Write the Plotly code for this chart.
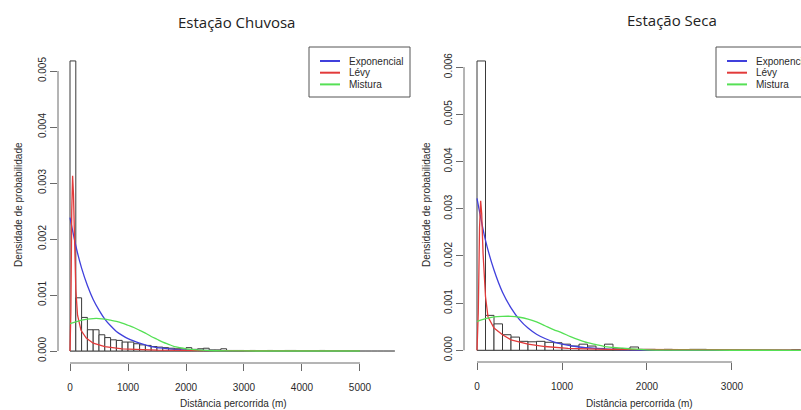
import plotly.graph_objects as go

W, H = 801, 410
BIN_WIDTH = 100  # m

# ---------------- data ----------------
# Estação Chuvosa: histogram densities, 100 m bins from 0 m to 5600 m
chuvosa_density = [
    0.00518, 0.00095, 0.00060, 0.00038, 0.00038, 0.00029, 0.00024, 0.00020, 0.00019, 0.00016,
    0.00016, 0.00013, 0.00011, 0.00010, 0.00008, 0.00007, 0.00006, 0.00005, 0.00004, 0.00004,
    0.00006, 0.00003, 0.00004, 0.00005, 0.00002, 0.00002, 0.00004, 0.00001, 0.00001, 0.00001,
    0.0, 0.00001, 0.0, 0.0, 0.00001, 0.0, 0.0, 0.00001, 0.00001, 0.0,
    0.0, 0.0, 0.0, 0.00001, 0.0, 0.0, 0.0, 0.0, 0.0, 0.0,
    0.0, 0.0, 0.0, 0.0, 0.0, 0.0,
]
# Estação Seca: histogram densities, 100 m bins from 0 m to 3900 m
seca_density = [
    0.00613, 0.00074, 0.00056, 0.00033, 0.00028, 0.00019, 0.00018, 0.00019, 0.00017, 0.00016,
    0.00013, 0.00009, 0.00013, 0.00009, 0.00004, 0.00013, 0.00003, 0.00004, 0.00007, 0.00002,
    0.00002, 0.0, 0.00002, 0.0, 0.0, 0.00002, 0.00002, 0.0, 0.0, 0.0,
    0.0, 0.0, 0.0, 0.0, 0.0, 0.0, 0.0, 0.00001, 0.0,
]

# fitted curves, Estação Chuvosa
chuvosa_exp_x = [0, 100, 200, 300, 400, 500, 600, 700, 800, 900, 1000, 1200, 1400, 1600, 1800, 2000, 2500, 3000, 4000, 5000]
chuvosa_exp_y = [0.00238, 0.00188, 0.00148, 0.00117, 0.00092, 0.00073, 0.00057, 0.00045, 0.00035, 0.00028,
                 0.00022, 0.00014, 0.00008, 0.00005, 0.00003, 0.00002, 0.000006, 0.000002, 0.0, 0.0]
chuvosa_levy_x = [0, 15, 30, 45, 60, 75, 100, 130, 190, 280, 400, 600, 900, 1500, 2500, 5000]
chuvosa_levy_y = [0.0, 0.0007, 0.0025, 0.00313, 0.0028, 0.0020, 0.0011, 0.00064, 0.00037, 0.00023,
                  0.00014, 0.00008, 0.00004, 0.000015, 0.000006, 0.000002]
chuvosa_mix_x = [0, 100, 200, 300, 400, 500, 600, 700, 800, 900, 1000, 1100, 1200, 1300, 1400, 1500,
                 1600, 1700, 1800, 1900, 2000, 2200, 2500, 3000, 4000, 5000]
chuvosa_mix_y = [0.00049, 0.00052, 0.00055, 0.00057, 0.00058, 0.00058, 0.00057, 0.00055, 0.00053, 0.00050,
                 0.00046, 0.00042, 0.00037, 0.00032, 0.00026, 0.00021, 0.00016, 0.00012, 0.00008, 0.00006,
                 0.00004, 0.00002, 0.000005, 0.000001, 0.0, 0.0]

# fitted curves, Estação Seca
seca_exp_x = [0, 100, 200, 300, 400, 500, 600, 700, 800, 900, 1000, 1200, 1400, 1600, 1800, 2000, 2500, 3000, 3900]
seca_exp_y = [0.00322, 0.00233, 0.00170, 0.00123, 0.00090, 0.00065, 0.00047, 0.00034, 0.00025, 0.00018,
              0.00013, 0.00007, 0.00004, 0.00002, 0.00001, 0.000005, 0.000001, 0.0, 0.0]
seca_levy_x = [0, 15, 30, 43, 55, 71, 100, 129, 200, 300, 400, 600, 800, 1070, 1540, 2500, 3900]
seca_levy_y = [0.0, 0.0008, 0.0026, 0.00317, 0.0029, 0.00206, 0.00114, 0.00071, 0.00047, 0.00033,
               0.00022, 0.00013, 0.00008, 0.00004, 0.00002, 0.000007, 0.000003]
seca_mix_x = [0, 100, 200, 300, 400, 500, 600, 700, 800, 900, 1000, 1100, 1200, 1300, 1400, 1500,
              1600, 1800, 2000, 2500, 3000, 3900]
seca_mix_y = [0.00061, 0.00067, 0.00071, 0.00072, 0.00072, 0.00070, 0.00066, 0.00060, 0.00052, 0.00044,
              0.00037, 0.00029, 0.00022, 0.00016, 0.00012, 0.00008, 0.00006, 0.00003, 0.00001, 0.000003,
              0.000001, 0.0]

# tick labels
chuvosa_xticks = [0, 1000, 2000, 3000, 4000, 5000]
chuvosa_yticks = [0.000, 0.001, 0.002, 0.003, 0.004, 0.005]
seca_xticks = [0, 1000, 2000, 3000]
seca_yticks = [0.000, 0.001, 0.002, 0.003, 0.004, 0.005, 0.006]

series_names = ["Exponencial", "Lévy", "Mistura"]
panel_titles = ["Estação Chuvosa", "Estação Seca"]
x_title = "Distância percorrida (m)"
y_title = "Densidade de probabilidade"

# ---------------- styling ----------------
FONT = "Liberation Sans, Arial, sans-serif"
AXIS_COL = "#6a6a6a"
BAR_EDGE = "#3a3a3a"
EMPTY_EDGE = "#808080"
TEXT_COL = "#2a2a2a"
COLORS = ["#4040dc", "#e23a3a", "#55e055"]


def px_x(p):
    return p / W


def px_y(p):
    return 1 - p / H


fig = go.Figure()


def add_panel(density, curves, xa, ya):
    centers = [BIN_WIDTH * i + BIN_WIDTH / 2 for i in range(len(density))]
    edge_cols = [BAR_EDGE if d > 0 else EMPTY_EDGE for d in density]
    fig.add_trace(go.Bar(
        x=centers, y=density, width=BIN_WIDTH, xaxis=xa, yaxis=ya,
        marker=dict(color="white", line=dict(color=edge_cols, width=1)),
        showlegend=False, name="Histograma",
    ))
    for (cx, cy, shape), name, col in zip(curves, series_names, COLORS):
        fig.add_trace(go.Scatter(
            x=cx, y=cy, mode="lines", xaxis=xa, yaxis=ya, name=name,
            line=dict(color=col, width=1.3, shape=shape, smoothing=0.8),
            showlegend=False,
        ))


add_panel(chuvosa_density,
          [(chuvosa_exp_x, chuvosa_exp_y, "spline"),
           (chuvosa_levy_x, chuvosa_levy_y, "linear"),
           (chuvosa_mix_x, chuvosa_mix_y, "spline")], "x", "y")
add_panel(seca_density,
          [(seca_exp_x, seca_exp_y, "spline"),
           (seca_levy_x, seca_levy_y, "linear"),
           (seca_mix_x, seca_mix_y, "spline")], "x2", "y2")

tickfont = dict(family=FONT, size=10, color=TEXT_COL)
common_x = dict(showgrid=False, zeroline=False, showline=False, ticks="outside", ticklen=7,
                tickwidth=1, tickcolor=AXIS_COL, tickfont=tickfont, ticklabelstandoff=8)
common_y = dict(showgrid=False, zeroline=False, showline=False, ticks="outside", ticklen=7,
                tickwidth=1, tickcolor=AXIS_COL, tickfont=tickfont, tickangle=-90)

fig.update_layout(
    width=W, height=H,
    margin=dict(l=0, r=0, t=0, b=0, autoexpand=False),
    paper_bgcolor="white", plot_bgcolor="white",
    showlegend=False,
    xaxis=dict(common_x, domain=[px_x(58), px_x(408)], range=[-207, 5828], anchor="y",
               tickvals=chuvosa_xticks, ticktext=[str(v) for v in chuvosa_xticks]),
    yaxis=dict(common_y, domain=[px_y(363), px_y(47)], range=[-0.000214, 0.005429], anchor="x",
               tickvals=chuvosa_yticks, ticktext=[f"{v:.3f}" for v in chuvosa_yticks]),
    xaxis2=dict(common_x, domain=[px_x(464), 1.0], range=[-153, 3812], anchor="y2",
                tickvals=seca_xticks, ticktext=[str(v) for v in seca_xticks]),
    yaxis2=dict(common_y, domain=[px_y(362), px_y(47)], range=[-0.000248, 0.006426], anchor="x2",
                tickvals=seca_yticks, ticktext=[f"{v:.3f}" for v in seca_yticks]),
)

shapes = []
annotations = []

# axis lines (R style: only from first to last tick) and histogram baselines
for xa, ya, xt, yt, dens in [("x", "y", chuvosa_xticks, chuvosa_yticks, chuvosa_density),
                             ("x2", "y2", seca_xticks, seca_yticks, seca_density)]:
    shapes.append(dict(type="line", xref=xa, yref=f"{ya} domain", x0=xt[0], x1=xt[-1], y0=0, y1=0,
                       line=dict(color=AXIS_COL, width=1)))
    shapes.append(dict(type="line", xref=f"{xa} domain", yref=ya, x0=0, x1=0, y0=yt[0], y1=yt[-1],
                       line=dict(color=AXIS_COL, width=1)))
    shapes.append(dict(type="line", xref=xa, yref=ya, x0=0, x1=len(dens) * BIN_WIDTH, y0=0, y1=0,
                       layer="below", line=dict(color=EMPTY_EDGE, width=1)))

# legends (R style boxes, top-right of each plot region)
for box_left in [309, 716]:
    box_top, box_bottom = 47, 97
    shapes.append(dict(type="rect", xref="paper", yref="paper",
                       x0=px_x(box_left), x1=px_x(box_left + 101), y0=px_y(box_bottom), y1=px_y(box_top),
                       line=dict(color="#555555", width=1), fillcolor="white"))
    for i, (name, col) in enumerate(zip(series_names, COLORS)):
        yrow = 61 + i * 11.7
        shapes.append(dict(type="line", xref="paper", yref="paper",
                           x0=px_x(box_left + 11), x1=px_x(box_left + 31), y0=px_y(yrow), y1=px_y(yrow),
                           line=dict(color=col, width=2)))
        annotations.append(dict(text=name, xref="paper", yref="paper", x=px_x(box_left + 38), y=px_y(yrow),
                                xanchor="left", yanchor="middle", showarrow=False,
                                font=dict(family=FONT, size=10, color=TEXT_COL)))

# panel titles
for title, cx, cy in [(panel_titles[0], 236, 22), (panel_titles[1], 672, 20)]:
    annotations.append(dict(text=title, xref="paper", yref="paper", x=px_x(cx), y=px_y(cy),
                            xanchor="center", yanchor="middle", showarrow=False,
                            font=dict(family="Open Sans, sans-serif", size=15, color="#222222")))

# axis titles
for cx in [233, 639]:
    annotations.append(dict(text=x_title, xref="paper", yref="paper", x=px_x(cx), y=px_y(403),
                            xanchor="center", yanchor="middle", showarrow=False,
                            font=dict(family=FONT, size=10, color=TEXT_COL)))
for cx in [18, 426]:
    annotations.append(dict(text=y_title, xref="paper", yref="paper", x=px_x(cx), y=px_y(205),
                            xanchor="center", yanchor="middle", showarrow=False, textangle=-90,
                            font=dict(family=FONT, size=10, color=TEXT_COL)))

fig.update_layout(shapes=shapes, annotations=annotations)
fig.write_html("out.html",
               config={"displayModeBar": False},
               post_script="document.body.style.margin='0';document.body.style.padding='0';"
                           "document.documentElement.style.overflow='hidden';")
